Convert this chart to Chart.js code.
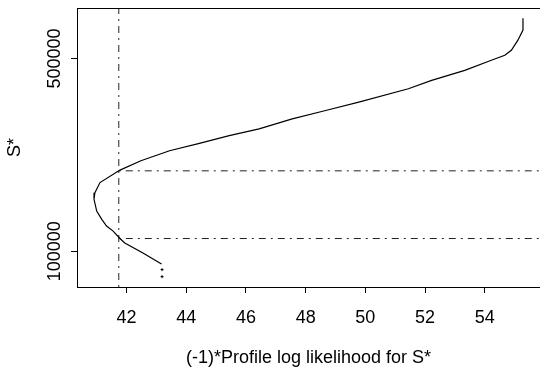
<!DOCTYPE html>
<html>
<head>
<meta charset="utf-8">
<script src="https://cdn.jsdelivr.net/npm/chart.js@4/dist/chart.umd.min.js"></script>
<style>
html, body { margin: 0; padding: 0; overflow: hidden; background: #fff; }
canvas { display: block; }
</style>
</head>
<body>
<canvas id="myChart" width="545" height="370"></canvas>
<script>
// profile curve (top to bottom)
var curveX = [55.28, 55.28, 55.11, 54.89, 54.67, 54.22, 53.33, 52.22, 51.44, 49.78, 48.67, 47.55, 46.44, 45.44, 44.44,
              43.44, 42.48, 41.78, 41.11, 40.94, 40.91, 41.00, 41.17, 41.33, 41.55, 41.78, 41.94, 42.55, 43.17];
var curveY = [583500, 559100, 538200, 517300, 506900, 496500, 475600, 454700, 437400, 409400, 392100, 374800, 353900, 340000, 323900,
              308700, 287800, 268400, 242500, 221600, 207900, 183400, 166100, 152200, 141700, 126500, 117300, 96400, 73500];
// the two loose points under the curve
var tailX = [43.19, 43.19];
var tailY = [61800, 47200];
// cut-off lines
var cutX = 41.74;
var cutY = [266900, 126400];
// axes
var xTicks = [42, 44, 46, 48, 50, 52, 54];
var yTicks = [100000, 500000];
var xMin = 40.34, xMax = 55.85;
var yMin = 25750, yMax = 604950;

function pts(xs, ys) {
    return xs.map(function(x, i) { return {x: x, y: ys[i]}; });
}

var dashDot = [2, 5, 7, 5];
var datasets = [{
    data: pts(curveX, curveY),
    showLine: true,
    borderColor: '#000',
    borderWidth: 1.2,
    pointRadius: 0,
    tension: 0
}, {
    data: pts(tailX, tailY),
    showLine: false,
    pointStyle: 'cross',
    pointRadius: 1.5,
    borderColor: '#000',
    borderWidth: 1
}, {
    data: pts([cutX, cutX], [yMin, yMax]),
    showLine: true,
    borderColor: '#222',
    borderWidth: 1,
    borderDash: dashDot,
    pointRadius: 0
}];
cutY.forEach(function(v) {
    datasets.push({
        data: pts([cutX, xMax], [v, v]),
        showLine: true,
        borderColor: '#222',
        borderWidth: 1,
        borderDash: dashDot,
        pointRadius: 0
    });
});

var frame = {
    id: 'frame',
    afterDraw: function(chart) {
        var a = chart.chartArea, ctx = chart.ctx;
        ctx.save();
        ctx.strokeStyle = '#000';
        ctx.lineWidth = 1;
        ctx.strokeRect(Math.round(a.left) + 0.5, Math.round(a.top) + 0.5,
                       Math.round(a.right - a.left), Math.round(a.bottom - a.top));
        ctx.restore();
    }
};

Chart.defaults.font.family = '"Liberation Sans", Arial, sans-serif';
Chart.defaults.color = '#000';

var ctx = document.getElementById('myChart').getContext('2d');
var myChart = new Chart(ctx, {
    type: 'scatter',
    data: { datasets: datasets },
    plugins: [frame],
    options: {
        responsive: false,
        animation: false,
        layout: { padding: { top: 8, right: 3, left: 0, bottom: 0 } },
        plugins: { legend: { display: false }, tooltip: { enabled: false } },
        scales: {
            x: {
                type: 'linear',
                min: xMin,
                max: xMax,
                afterBuildTicks: function(s) { s.ticks = xTicks.map(function(v) { return {value: v}; }); },
                afterFit: function(s) { s.height = 83; },
                border: { display: false },
                grid: { drawOnChartArea: false, drawTicks: true, tickLength: 6, color: '#000' },
                ticks: { font: { size: 18 }, padding: 14, callback: function(v) { return String(v); } },
                title: { display: true, text: '(-1)*Profile log likelihood for S*', font: { size: 18 },
                         padding: { top: 0, bottom: 1.5 } }
            },
            y: {
                type: 'linear',
                min: yMin,
                max: yMax,
                afterBuildTicks: function(s) { s.ticks = yTicks.map(function(v) { return {value: v}; }); },
                afterFit: function(s) { s.width = 77; },
                border: { display: false },
                grid: { drawOnChartArea: false, drawTicks: true, tickLength: 6, color: '#000' },
                ticks: { font: { size: 18 }, minRotation: 90, maxRotation: 90, crossAlign: 'center',
                         padding: -14, callback: function(v) { return String(v); } },
                title: { display: true, text: 'S*', font: { size: 18 }, padding: { top: 4, bottom: 0 } }
            }
        }
    }
});
</script>
</body>
</html>
